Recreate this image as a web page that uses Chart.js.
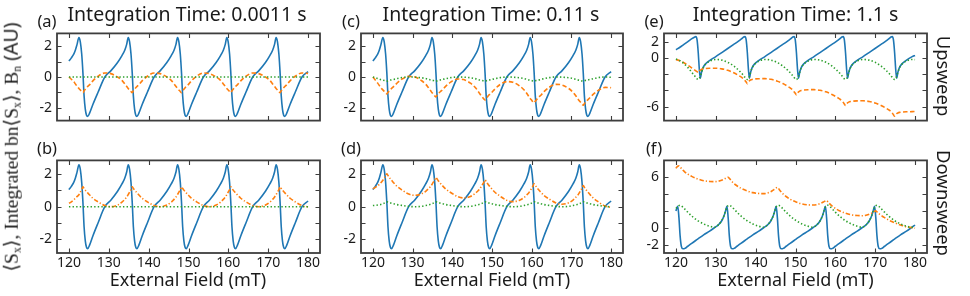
<!DOCTYPE html>
<html><head><meta charset="utf-8">
<script src="https://cdn.jsdelivr.net/npm/chart.js@4.4.1/dist/chart.umd.min.js"></script>
<style>
html,body{margin:0;padding:0;background:#fff;}
body{width:970px;height:296px;overflow:hidden;position:relative;font-family:'Noto Sans',sans-serif;color:#1a1a1a;}
.cv{position:absolute;}
.t{position:absolute;white-space:nowrap;transform:translate(-50%,-50%);line-height:1;}
.title{font-size:19.5px;}
.lett{font-size:16.5px;}
.xl{font-size:18px;}
.rl{font-size:18.5px;transform:translate(-50%,-50%) rotate(90deg);}
.yl{font-size:19.5px;transform:translate(-50%,-50%) rotate(-90deg);}
.serif{font-family:'Liberation Serif','DejaVu Serif',serif;}
sub{font-size:0.6em;vertical-align:-0.25em;line-height:0;}
</style></head><body>
<script>
// ---------- data ----------
const xTicks = [120,130,140,150,160,170,180];
const yTicksAD = [-2,-1,0,1,2], yLabelsAD = [-2,0,2];
const yTicksE = [-6,-4,-2,0,2], yLabelsE = [-6,0,2];
const yTicksF = [-2,0,2,4,6], yLabelsF = [-2,0,6];

// panels (a)-(d): field samples (mT)
const fieldAD = [120,120.6,121.2,121.6,122.0,
 122.5,122.85,123.2,123.5,123.8,124.1,124.4,124.7,125.2,126.0,127.3,129.0,130.5,132.2,133.3,134.0,134.5,
 134.87,135.22,135.57,135.87,136.17,136.47,136.77,137.07,137.57,138.37,139.67,141.37,142.87,144.57,145.67,146.37,146.87,
 147.24,147.59,147.94,148.24,148.54,148.84,149.14,149.44,149.94,150.74,152.04,153.74,155.24,156.94,158.04,158.74,159.24,
 159.61,159.96,160.31,160.61,160.91,161.21,161.51,161.81,162.31,163.11,164.41,166.11,167.61,169.31,170.41,171.11,171.61,
 171.98,172.33,172.68,172.98,173.28,173.58,173.88,174.18,174.68,175.48,176.78,178.48,180.0];
const sxAD = [1.05,1.25,1.5,1.75,2.1,
 2.58,2.3,1.5,0.3,-1.25,-2.1,-2.5,-2.58,-2.35,-1.8,-1.0,0.0,0.4,0.95,1.4,1.75,2.15,
 2.58,2.3,1.5,0.3,-1.25,-2.1,-2.5,-2.58,-2.35,-1.8,-1.0,0.0,0.4,0.95,1.4,1.75,2.15,
 2.58,2.3,1.5,0.3,-1.25,-2.1,-2.5,-2.58,-2.35,-1.8,-1.0,0.0,0.4,0.95,1.4,1.75,2.15,
 2.58,2.3,1.5,0.3,-1.25,-2.1,-2.5,-2.58,-2.35,-1.8,-1.0,0.0,0.4,0.95,1.4,1.75,2.15,
 2.58,2.3,1.5,0.3,-1.25,-2.1,-2.5,-2.58,-2.35,-1.8,-1.0,0.0,0.35];
const integA = [0.0,-0.15,-0.3,-0.45,-0.6,
 -0.75,-0.85,-0.95,-1.02,-0.9,-0.8,-0.7,-0.62,-0.5,-0.25,0.05,0.26,0.22,0.0,-0.22,-0.45,-0.62,
 -0.75,-0.85,-0.95,-1.02,-0.9,-0.8,-0.7,-0.62,-0.5,-0.25,0.05,0.26,0.22,0.0,-0.22,-0.45,-0.62,
 -0.75,-0.85,-0.95,-1.02,-0.9,-0.8,-0.7,-0.62,-0.5,-0.25,0.05,0.26,0.22,0.0,-0.22,-0.45,-0.62,
 -0.75,-0.85,-0.95,-1.02,-0.9,-0.8,-0.7,-0.62,-0.5,-0.25,0.05,0.26,0.22,0.0,-0.22,-0.45,-0.62,
 -0.75,-0.85,-0.95,-1.02,-0.9,-0.8,-0.7,-0.62,-0.5,-0.25,0.05,0.26,0.24];
const integB = [0.21,0.3,0.42,0.52,0.62,
 0.74,0.9,1.05,1.22,1.12,1.02,0.93,0.85,0.72,0.52,0.3,0.07,0.0,0.1,0.28,0.45,0.6,
 0.74,0.9,1.05,1.22,1.12,1.02,0.93,0.85,0.72,0.52,0.3,0.07,0.0,0.1,0.28,0.45,0.6,
 0.74,0.9,1.05,1.22,1.12,1.02,0.93,0.85,0.72,0.52,0.3,0.07,0.0,0.1,0.28,0.45,0.6,
 0.74,0.9,1.05,1.22,1.12,1.02,0.93,0.85,0.72,0.52,0.3,0.07,0.0,0.1,0.28,0.45,0.6,
 0.74,0.9,1.05,1.22,1.12,1.02,0.93,0.85,0.72,0.52,0.3,0.07,0.0];
const integC = [0.0,-0.2,-0.4,-0.55,-0.7,
 -0.84,-0.94,-1.04,-1.1,-1.0,-0.91,-0.81,-0.75,-0.63,-0.42,-0.14,0.04,0.01,-0.23,-0.47,-0.7,-0.88,
 -1.02,-1.13,-1.23,-1.3,-1.19,-1.1,-1.01,-0.94,-0.82,-0.6,-0.32,-0.13,-0.17,-0.4,-0.65,-0.88,-1.08,
 -1.21,-1.32,-1.43,-1.5,-1.39,-1.3,-1.2,-1.13,-1.01,-0.78,-0.49,-0.3,-0.34,-0.58,-0.83,-1.06,-1.26,
 -1.4,-1.51,-1.62,-1.69,-1.58,-1.48,-1.39,-1.31,-1.19,-0.96,-0.67,-0.48,-0.52,-0.75,-1.0,-1.23,-1.42,
 -1.55,-1.66,-1.77,-1.84,-1.74,-1.64,-1.55,-1.48,-1.36,-1.14,-0.87,-0.68,-0.7];
const bnC = [0.0,-0.04,-0.1,-0.14,-0.18,
 -0.21,-0.23,-0.26,-0.27,-0.25,-0.22,-0.2,-0.19,-0.16,-0.11,-0.04,0.0,-0.01,-0.05,-0.1,-0.15,-0.19,
 -0.21,-0.23,-0.26,-0.27,-0.25,-0.22,-0.2,-0.19,-0.16,-0.11,-0.04,0.0,-0.01,-0.05,-0.1,-0.15,-0.19,
 -0.21,-0.23,-0.26,-0.27,-0.25,-0.22,-0.2,-0.19,-0.16,-0.11,-0.04,0.0,-0.01,-0.05,-0.1,-0.15,-0.19,
 -0.21,-0.23,-0.26,-0.27,-0.25,-0.22,-0.2,-0.19,-0.16,-0.11,-0.04,0.0,-0.01,-0.05,-0.1,-0.15,-0.19,
 -0.21,-0.23,-0.26,-0.27,-0.25,-0.22,-0.2,-0.19,-0.16,-0.11,-0.04,0.0,-0.02];
const integD = [1.1,1.19,1.29,1.37,1.47,
 1.63,1.76,1.89,2.03,1.92,1.82,1.71,1.63,1.48,1.27,1.03,0.78,0.7,0.79,0.95,1.11,1.24,
 1.37,1.51,1.65,1.8,1.7,1.6,1.5,1.42,1.28,1.08,0.86,0.62,0.54,0.63,0.8,0.95,1.08,
 1.22,1.36,1.49,1.65,1.54,1.44,1.33,1.25,1.1,0.89,0.65,0.39,0.31,0.4,0.56,0.72,0.85,
 0.98,1.12,1.26,1.41,1.31,1.21,1.11,1.03,0.89,0.69,0.47,0.23,0.15,0.24,0.41,0.58,0.71,
 0.85,1.0,1.14,1.3,1.19,1.09,0.98,0.9,0.75,0.54,0.3,0.04,-0.04];
const bnD = [0.07,0.08,0.1,0.12,0.14,
 0.18,0.22,0.26,0.3,0.28,0.25,0.23,0.21,0.18,0.13,0.08,0.02,0.0,0.02,0.07,0.11,0.15,
 0.18,0.22,0.26,0.3,0.28,0.25,0.23,0.21,0.18,0.13,0.08,0.02,0.0,0.02,0.07,0.11,0.15,
 0.18,0.22,0.26,0.3,0.28,0.25,0.23,0.21,0.18,0.13,0.08,0.02,0.0,0.02,0.07,0.11,0.15,
 0.18,0.22,0.26,0.3,0.28,0.25,0.23,0.21,0.18,0.13,0.08,0.02,0.0,0.02,0.07,0.11,0.15,
 0.18,0.22,0.26,0.3,0.28,0.25,0.23,0.21,0.18,0.13,0.08,0.02,-0.02];
const fieldFlat = [120,180];
const bnFlat = [0,0];

// panel (e)
const fieldE = [120,121,122,123,124,124.5,
 125.0,125.3,125.6,125.85,126.1,126.4,126.8,127.5,128.5,130.0,131.5,133.0,134.5,135.7,136.5,137.0,
 137.32,137.62,137.92,138.17,138.42,138.72,139.12,139.82,140.82,142.32,143.82,145.32,146.82,148.02,148.82,149.32,
 149.64,149.94,150.24,150.49,150.74,151.04,151.44,152.14,153.14,154.64,156.14,157.64,159.14,160.34,161.14,161.64,
 161.96,162.26,162.56,162.81,163.06,163.36,163.76,164.46,165.46,166.96,168.46,169.96,171.46,172.66,173.46,173.96,
 174.28,174.58,174.88,175.13,175.38,175.68,176.08,176.78,177.78,179.28,180.0];
const sxE = [1.0,1.3,1.65,2.0,2.35,2.5,
 2.6,2.2,0.6,-1.3,-2.5,-1.8,-1.2,-0.7,-0.3,0.15,0.65,1.15,1.65,2.05,2.35,2.55,
 2.6,2.2,0.6,-1.3,-2.5,-1.8,-1.2,-0.7,-0.3,0.15,0.65,1.15,1.65,2.05,2.35,2.55,
 2.6,2.2,0.6,-1.3,-2.5,-1.8,-1.2,-0.7,-0.3,0.15,0.65,1.15,1.65,2.05,2.35,2.55,
 2.6,2.2,0.6,-1.3,-2.5,-1.8,-1.2,-0.7,-0.3,0.15,0.65,1.15,1.65,2.05,2.35,2.55,
 2.6,2.2,0.6,-1.3,-2.5,-1.8,-1.2,-0.7,-0.3,0.15,0.3];
const integE = [-0.2,-0.35,-0.6,-0.9,-1.25,-1.42,
 -1.6,-1.7,-1.8,-1.64,-1.51,-1.42,-1.35,-1.31,-1.28,-1.27,-1.35,-1.53,-1.84,-2.16,-2.4,-2.59,
 -2.78,-2.97,-3.16,-2.98,-2.82,-2.72,-2.65,-2.59,-2.56,-2.55,-2.63,-2.83,-3.15,-3.49,-3.75,-3.95,
 -4.15,-4.35,-4.55,-4.36,-4.19,-4.08,-4.0,-3.95,-3.91,-3.9,-3.98,-4.17,-4.49,-4.82,-5.07,-5.27,
 -5.46,-5.66,-5.85,-5.68,-5.53,-5.43,-5.36,-5.31,-5.28,-5.27,-5.35,-5.53,-5.84,-6.16,-6.4,-6.59,
 -6.78,-6.97,-7.16,-6.99,-6.85,-6.76,-6.69,-6.65,-6.62,-6.6,-6.58];
const bnE = [-0.15,-0.35,-0.7,-1.2,-1.8,-2.1,
 -2.4,-2.58,-2.65,-2.55,-2.3,-1.8,-1.25,-0.75,-0.4,-0.2,-0.28,-0.55,-1.0,-1.5,-1.9,-2.2,
 -2.4,-2.58,-2.65,-2.55,-2.3,-1.8,-1.25,-0.75,-0.4,-0.2,-0.28,-0.55,-1.0,-1.5,-1.9,-2.2,
 -2.4,-2.58,-2.65,-2.55,-2.3,-1.8,-1.25,-0.75,-0.4,-0.2,-0.28,-0.55,-1.0,-1.5,-1.9,-2.2,
 -2.4,-2.58,-2.65,-2.55,-2.3,-1.8,-1.25,-0.75,-0.4,-0.2,-0.28,-0.55,-1.0,-1.5,-1.9,-2.2,
 -2.4,-2.58,-2.65,-2.55,-2.3,-1.8,-1.25,-0.75,-0.4,-0.2,-0.22];

// panel (f)
const fieldF = [120,120.2,
 120.45,120.75,121.05,121.35,121.75,122.25,122.95,123.95,125.45,126.95,128.45,129.65,130.65,131.45,132.05,132.45,
 132.8,133.1,133.4,133.7,134.1,134.6,135.3,136.3,137.8,139.3,140.8,142.0,143.0,143.8,144.4,144.8,
 145.15,145.45,145.75,146.05,146.45,146.95,147.65,148.65,150.15,151.65,153.15,154.35,155.35,156.15,156.75,157.15,
 157.5,157.8,158.1,158.4,158.8,159.3,160.0,161.0,162.5,164.0,165.5,166.7,167.7,168.5,169.1,169.5,
 169.85,170.15,170.45,170.75,171.15,171.65,172.35,173.35,174.85,176.35,177.85,179.05,180.0];
const sxF = [2.0,2.3,
 2.55,1.2,-1.0,-2.2,-2.5,-2.45,-2.2,-1.85,-1.35,-0.85,-0.4,0.0,0.35,0.8,1.4,2.0,
 2.55,1.2,-1.0,-2.2,-2.5,-2.45,-2.2,-1.85,-1.35,-0.85,-0.4,0.0,0.35,0.8,1.4,2.0,
 2.55,1.2,-1.0,-2.2,-2.5,-2.45,-2.2,-1.85,-1.35,-0.85,-0.4,0.0,0.35,0.8,1.4,2.0,
 2.55,1.2,-1.0,-2.2,-2.5,-2.45,-2.2,-1.85,-1.35,-0.85,-0.4,0.0,0.35,0.8,1.4,2.0,
 2.55,1.2,-1.0,-2.2,-2.5,-2.45,-2.2,-1.85,-1.35,-0.85,-0.4,0.0,0.32];
const integF = [7.05,7.2,
 7.3,7.35,7.22,7.05,6.85,6.62,6.38,6.1,5.8,5.59,5.5,5.48,5.53,5.64,5.77,5.87,
 5.96,6.0,5.86,5.69,5.47,5.24,4.99,4.69,4.38,4.17,4.07,4.05,4.13,4.28,4.46,4.61,
 4.74,4.8,4.65,4.46,4.23,3.98,3.71,3.39,3.06,2.83,2.72,2.7,2.75,2.86,2.99,3.1,
 3.19,3.23,3.1,2.94,2.74,2.53,2.29,2.02,1.74,1.54,1.45,1.43,1.49,1.6,1.74,1.86,
 1.95,2.0,1.88,1.75,1.6,1.42,1.2,0.92,0.6,0.33,0.12,0.02,-0.05];
const bnF = [2.3,2.38,
 2.45,2.62,2.67,2.6,2.45,2.2,1.85,1.4,0.85,0.45,0.18,0.06,0.35,0.82,1.42,2.0,
 2.45,2.62,2.67,2.6,2.45,2.2,1.85,1.4,0.85,0.45,0.18,0.06,0.35,0.82,1.42,2.0,
 2.45,2.62,2.67,2.6,2.45,2.2,1.85,1.4,0.85,0.45,0.18,0.06,0.35,0.82,1.42,2.0,
 2.45,2.62,2.67,2.6,2.45,2.2,1.85,1.4,0.85,0.45,0.18,0.06,0.35,0.82,1.42,2.0,
 2.45,2.62,2.67,2.6,2.45,2.2,1.85,1.4,0.85,0.45,0.18,0.06,0.03];

// ---------- drawing ----------
const BLUE='#1f77b4', ORANGE='#ff7f0e', GREEN='#2ca02c';
function pts(xs, ys){
  if (xs.length !== ys.length) throw new Error('length mismatch '+xs.length+' vs '+ys.length);
  return xs.map((x,i)=>({x:x, y:ys[i]}));
}
const DASH=[4.5,2.5], DASHDOT=[4.5,2,1.2,2], DOT=[1.4,2.2];

const framePlugin = {
  id:'frame',
  afterDatasetsDraw(chart){
    const {ctx, chartArea:a, scales} = chart;
    const x = scales.x, y = scales.y, L = 4.5;
    ctx.save();
    ctx.strokeStyle = '#3d3d3d';
    ctx.lineWidth = 1.1;
    ctx.beginPath();
    x.ticks.forEach(t=>{ const p = Math.round(x.getPixelForValue(t.value))+0.5;
      ctx.moveTo(p,a.bottom); ctx.lineTo(p,a.bottom-L); ctx.moveTo(p,a.top); ctx.lineTo(p,a.top+L); });
    y.ticks.forEach(t=>{ const p = Math.round(y.getPixelForValue(t.value))+0.5;
      ctx.moveTo(a.left,p); ctx.lineTo(a.left+L,p); ctx.moveTo(a.right,p); ctx.lineTo(a.right-L,p); });
    ctx.stroke();
    ctx.lineWidth = 1.8;
    ctx.strokeRect(a.left, a.top, a.right-a.left, a.bottom-a.top);
    ctx.restore();
  }
};

function makePanel(rect, bottomRow, yMin, yMax, yTicks, yLabels, series){
  const PL = 40, PT = 8, PR = 8, PB = bottomRow ? 26 : 8;
  const W = rect.w + PL + PR, H = rect.h + PT + PB;
  const c = document.createElement('canvas');
  c.className = 'cv';
  c.width = W; c.height = H;
  c.style.left = (rect.l - PL) + 'px'; c.style.top = (rect.t - PT) + 'px';
  c.style.width = W + 'px'; c.style.height = H + 'px';
  document.body.appendChild(c);
  const datasets = series.map(s=>({
    data: pts(s.xs, s.ys), borderColor: s.color, borderWidth: 1.6,
    borderDash: s.dash || [], pointRadius: 0, fill: false,
    cubicInterpolationMode: 'monotone', borderCapStyle: 'butt'
  }));
  new Chart(c, {
    type: 'line',
    data: { datasets },
    plugins: [framePlugin],
    options: {
      responsive: false, animation: false, devicePixelRatio: 1,
      layout: { padding: { left: 0, top: PT, right: PR, bottom: 0 } },
      plugins: { legend: { display: false }, tooltip: { enabled: false }, title: { display: false } },
      scales: {
        x: { type: 'linear', min: 117, max: 183,
          grid: { display: false, drawTicks: false }, border: { display: false },
          afterBuildTicks: s => { s.ticks = xTicks.map(v=>({value:v})); },
          afterFit: s => { s.height = PB; },
          ticks: { padding: 2, autoSkip: false, maxRotation: 0, color: '#1a1a1a',
            font: { family: 'Noto Sans', size: 14 },
            callback: v => bottomRow ? String(v) : '' } },
        y: { type: 'linear', min: yMin, max: yMax,
          grid: { display: false, drawTicks: false }, border: { display: false },
          afterBuildTicks: s => { s.ticks = yTicks.map(v=>({value:v})); },
          afterFit: s => { s.width = PL; },
          ticks: { padding: 5, autoSkip: false, color: '#1a1a1a',
            font: { family: 'Noto Sans', size: 14 },
            callback: v => yLabels.includes(v) ? String(v) : '' } }
      }
    }
  });
}

const R = {
  a: {l:57, t:28, w:263, h:98}, b: {l:57, t:155, w:263, h:98},
  c: {l:361, t:28, w:262, h:98}, d: {l:361, t:155, w:262, h:98},
  e: {l:664, t:28, w:263, h:98}, f: {l:664, t:155, w:263, h:98}
};
makePanel(R.a, false, -2.85, 2.85, yTicksAD, yLabelsAD, [
  {xs: fieldFlat, ys: bnFlat, color: GREEN, dash: DOT},
  {xs: fieldAD, ys: integA, color: ORANGE, dash: DASH},
  {xs: fieldAD, ys: sxAD, color: BLUE}]);
makePanel(R.b, true, -2.85, 2.85, yTicksAD, yLabelsAD, [
  {xs: fieldFlat, ys: bnFlat, color: GREEN, dash: DOT},
  {xs: fieldAD, ys: integB, color: ORANGE, dash: DASHDOT},
  {xs: fieldAD, ys: sxAD, color: BLUE}]);
makePanel(R.c, false, -2.85, 2.85, yTicksAD, yLabelsAD, [
  {xs: fieldAD, ys: bnC, color: GREEN, dash: DOT},
  {xs: fieldAD, ys: integC, color: ORANGE, dash: DASH},
  {xs: fieldAD, ys: sxAD, color: BLUE}]);
makePanel(R.d, true, -2.85, 2.85, yTicksAD, yLabelsAD, [
  {xs: fieldAD, ys: bnD, color: GREEN, dash: DOT},
  {xs: fieldAD, ys: integD, color: ORANGE, dash: DASHDOT},
  {xs: fieldAD, ys: sxAD, color: BLUE}]);
makePanel(R.e, false, -7.7, 3.0, yTicksE, yLabelsE, [
  {xs: fieldE, ys: bnE, color: GREEN, dash: DOT},
  {xs: fieldE, ys: integE, color: ORANGE, dash: DASH},
  {xs: fieldE, ys: sxE, color: BLUE}]);
makePanel(R.f, true, -3.0, 8.0, yTicksF, yLabelsF, [
  {xs: fieldF, ys: bnF, color: GREEN, dash: DOT},
  {xs: fieldF, ys: integF, color: ORANGE, dash: DASHDOT},
  {xs: fieldF, ys: sxF, color: BLUE}]);

// ---------- text ----------
function txt(cls, html, x, y){
  const d = document.createElement('div');
  d.className = 't ' + cls; d.innerHTML = html;
  d.style.left = x + 'px'; d.style.top = y + 'px';
  document.body.appendChild(d);
}
txt('title', 'Integration Time: 0.0011 s', 187, 14);
txt('title', 'Integration Time: 0.11 s', 491, 14);
txt('title', 'Integration Time: 1.1 s', 795.5, 14);
txt('lett', '(a)', 47, 21); txt('lett', '(b)', 47, 148);
txt('lett', '(c)', 351, 21); txt('lett', '(d)', 351, 148);
txt('lett', '(e)', 654, 21); txt('lett', '(f)', 654, 148);
txt('xl', 'External Field (mT)', 188, 279);
txt('xl', 'External Field (mT)', 492, 279);
txt('xl', 'External Field (mT)', 795.5, 279);
txt('rl', 'Upsweep', 944, 76);
txt('rl', 'Downsweep', 944, 203);
txt('yl', '<span class="serif">⟨S<sub>x</sub>⟩, Integrated bn⟨S<sub>x</sub>⟩, B<sub>n</sub></span> (AU)', 11, 147);
</script>
</body></html>
